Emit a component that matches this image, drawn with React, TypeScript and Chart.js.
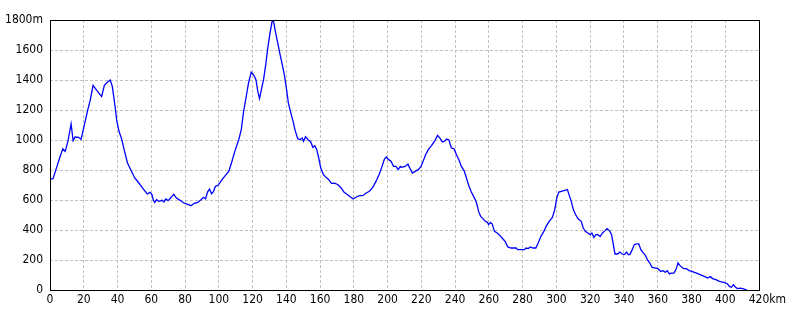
import React, { useEffect, useRef } from "react";
import { Chart, registerables } from "chart.js";

Chart.register(...registerables);

// Distance along the route (km)
const distanceKm = [
  0, 1.8, 3.7, 5.7, 7.6, 9, 10.6, 12.5, 13.7, 14.9, 16.9, 18.4, 20.4, 22.4, 23.9,
  25.5, 27.8, 30.6, 32.2, 34.1, 35.7, 36.9, 38.4, 39.6, 41, 42.4, 43.9, 45.9, 47.8, 50.2,
  52.2, 54.1, 55.7, 57.6, 59.2, 60.4, 61.2, 62, 63.1, 64.5, 66.5, 67.5, 68.6, 70, 71.8,
  73.3, 74.9, 77.3, 79.2, 81.2, 83.5, 85.5, 87.5, 89.4, 91, 92.2, 93.3, 94.5, 95.7, 96.9,
  98, 99.6, 101.2, 102.7, 104.3,
  105.9, 107.8, 109.8, 111.8, 113.3, 114.7, 116.1, 117.6, 119.2, 120.8,
  122, 123.1, 124.1, 125.1, 126.5, 127.8, 129, 130.2, 131.5, 132, 132.5,
  133.7, 134.9, 136.3, 137.6, 138.8, 140, 141.2, 142.4, 143.9, 145.1,
  146.7, 148, 149.4, 150.2, 151.4, 152.9, 154.5, 155.7, 156.9, 158,
  159.2, 160.4, 162, 163.5, 165.1, 166.7, 168.6, 170.6, 172.5, 174.1,
  176.1, 178, 179.6, 181.4, 183.3, 185.3, 187.3, 189.2, 191.2, 193.1,
  195.1, 196.7, 198, 199.2, 200.6, 202, 203.5, 204.9, 206.3, 207.5,
  208.4, 210.4, 212, 213.3, 214.7, 216.3, 218.2, 219.8, 221.2, 222.5,
  224.1, 226.1, 228, 229.6, 231, 232.4, 233.5, 234.9, 236.3, 237.8,
  239.4, 240.8, 242.2, 243.7, 245.3, 246.7, 248.2, 249.6, 251.6, 252.7,
  253.9, 255.1, 256.5, 257.8, 259, 259.8, 261, 262, 263.3, 264.9,
  266.5, 268.2, 269.6, 271.2, 273.1, 276.1, 277.1, 279.4, 281, 282,
  283.3, 284.5, 286.1, 287.8, 289.2, 290.8, 292.4, 293.9, 295.7, 297.6,
  299, 300.2, 301.4, 302.9, 304.9, 306.5, 307.8, 308.8, 310, 311.4, 312.7,
  314.7, 315.9, 317.1, 318.6, 320, 321, 322.2, 323.3, 324.5, 325.9,
  327.3, 328.8, 330, 331.4, 332.7, 333.7, 334.7, 336.3, 337.6, 339,
  340.2, 341.6, 342.5, 343.5, 344.9, 346.1, 347.6, 348.8, 350, 351.4,
  352.7, 353.9, 355.3, 356.7, 358.2, 360.2, 361.8, 363.1, 364.5, 365.7,
  366.9, 368, 369.6, 370.8, 372, 373.1, 374.3, 375.5, 377, 378.6,
  380.2, 382.2, 384.1, 386.1, 387.6, 389.6, 391.2, 392.5, 394.5, 396.5,
  398.4, 400, 401.4, 402.5, 403.7, 404.9, 406.1, 407.2, 408.8, 410.4, 412.8,
];

// Elevation (m)
const elevationM = [
  740, 742, 809, 880, 942, 924, 991, 1107, 996, 1020, 1018, 1004, 1102, 1202, 1269,
  1364, 1329, 1289, 1364, 1387, 1400, 1358, 1236, 1124, 1053, 1009, 936, 847, 802, 747,
  720, 691, 667, 640, 651, 636, 600, 584, 602, 591, 598, 587, 607, 596, 618,
  638, 613, 596, 580, 573, 562, 578, 584, 602, 618, 607, 653, 673, 642, 658,
  691, 698, 724, 747, 769,
  791, 858, 936, 1002, 1069, 1191, 1280, 1380, 1453, 1431,
  1402, 1324, 1276, 1329, 1402, 1502, 1613, 1702, 1788, 1800, 1786,
  1713, 1647, 1569, 1502, 1436, 1347, 1247, 1191, 1129, 1069,
  1009, 1002, 1013, 991, 1022, 1002, 987, 951, 962, 936,
  880, 813, 769, 751, 736, 711, 713, 702, 680, 653,
  636, 620, 607, 620, 629, 629, 647, 658, 684, 724,
  773, 824, 869, 887, 869, 858, 824, 824, 802, 824,
  818, 824, 840, 809, 780, 791, 802, 824, 864, 902,
  936, 964, 996, 1031, 1013, 987, 991, 1007, 1000, 947,
  940, 902, 869, 824, 796, 747, 691, 653, 609, 580,
  524, 491, 476, 458, 453, 436, 451, 440, 391, 380,
  364, 342, 324, 287, 280, 280, 269, 269, 269, 280,
  276, 287, 280, 280, 313, 358, 387, 424, 458, 484,
  536, 613, 653, 658, 664, 669, 624, 591, 536, 502, 476,
  458, 413, 391, 380, 369, 380, 351, 369, 369, 356,
  380, 396, 409, 396, 369, 302, 240, 240, 253, 240,
  236, 253, 236, 236, 269, 302, 307, 307, 269, 247,
  231, 202, 180, 151, 147, 142, 124, 129, 118, 129,
  107, 113, 113, 136, 180, 164, 151, 142, 142, 129,
  124, 116, 107, 98, 91, 80, 89, 76, 69, 58,
  53, 47, 40, 24, 18, 36, 18, 9, 13, 9, 0,
];

const xMin = 0;
const xMax = 420;
const xStep = 20;
const yMin = 0;
const yMax = 1800;
const yStep = 200;
const xUnit = "km";
const yUnit = "m";

const FONT_FAMILY = "'Liberation Sans Narrow', 'DejaVu Sans Condensed', 'Liberation Sans', sans-serif";
const FONT_SIZE = 12;
const X_LABEL_PAD = 3;

export default function App() {
  const ref = useRef<HTMLCanvasElement>(null);

  useEffect(() => {
    document.body.style.margin = "0";
    const canvas = ref.current;
    if (!canvas) return;

    const framePlugin = {
      id: "frame",
      afterDraw(chart: any) {
        const { ctx, chartArea: a, scales } = chart;
        ctx.save();
        ctx.strokeStyle = "#000000";
        ctx.lineWidth = 1;
        ctx.strokeRect(
          Math.round(a.left) + 0.5,
          Math.round(a.top) + 0.5,
          Math.round(a.right) - Math.round(a.left),
          Math.round(a.bottom) - Math.round(a.top)
        );
        // unit suffix after the last x tick label
        ctx.font = `${FONT_SIZE}px ${FONT_FAMILY}`;
        ctx.fillStyle = "#000000";
        ctx.textAlign = "left";
        ctx.textBaseline = "middle";
        const lastX = scales.x.getPixelForValue(xMax);
        const w = ctx.measureText(String(xMax)).width;
        ctx.fillText(xUnit, lastX + w / 2, a.bottom + X_LABEL_PAD + (FONT_SIZE * 1.2) / 2);
        ctx.restore();
      },
    };

    const chart = new Chart(canvas, {
      type: "line",
      data: {
        datasets: [
          {
            data: distanceKm.map((d, i) => ({ x: d, y: elevationM[i] })),
            borderColor: "#0000ff",
            borderWidth: 1.3,
            pointRadius: 0,
            fill: false,
            tension: 0,
          },
        ],
      },
      options: {
        responsive: false,
        animation: false,
        devicePixelRatio: 1,
        layout: { padding: { left: 0, top: 20, right: 41, bottom: 0 } },
        plugins: {
          legend: { display: false },
          tooltip: { enabled: false },
        },
        scales: {
          x: {
            type: "linear",
            min: xMin,
            max: xMax,
            afterFit(scale: any) {
              scale.height = 30;
            },
            ticks: {
              stepSize: xStep,
              autoSkip: false,
              maxRotation: 0,
              padding: X_LABEL_PAD,
              color: "#000000",
              font: { family: FONT_FAMILY, size: FONT_SIZE },
              callback: (v: any) => String(v),
            },
            grid: { color: "#c0c0c0", drawTicks: false, lineWidth: 1 },
            border: { display: false, dash: [3, 2] },
          },
          y: {
            type: "linear",
            min: yMin,
            max: yMax,
            afterFit(scale: any) {
              scale.width = 50;
            },
            ticks: {
              stepSize: yStep,
              padding: 7,
              color: "#000000",
              font: { family: FONT_FAMILY, size: FONT_SIZE },
              callback: (v: any) => (v === yMax ? `${v}${yUnit}` : String(v)),
            },
            grid: { color: "#c0c0c0", drawTicks: false, lineWidth: 1 },
            border: { display: false, dash: [3, 2] },
          },
        },
      },
      plugins: [framePlugin],
    });

    return () => chart.destroy();
  }, []);

  return (
    <div style={{ width: 800, height: 320, background: "#ffffff" }}>
      <canvas ref={ref} width={800} height={320} style={{ display: "block" }} />
    </div>
  );
}
